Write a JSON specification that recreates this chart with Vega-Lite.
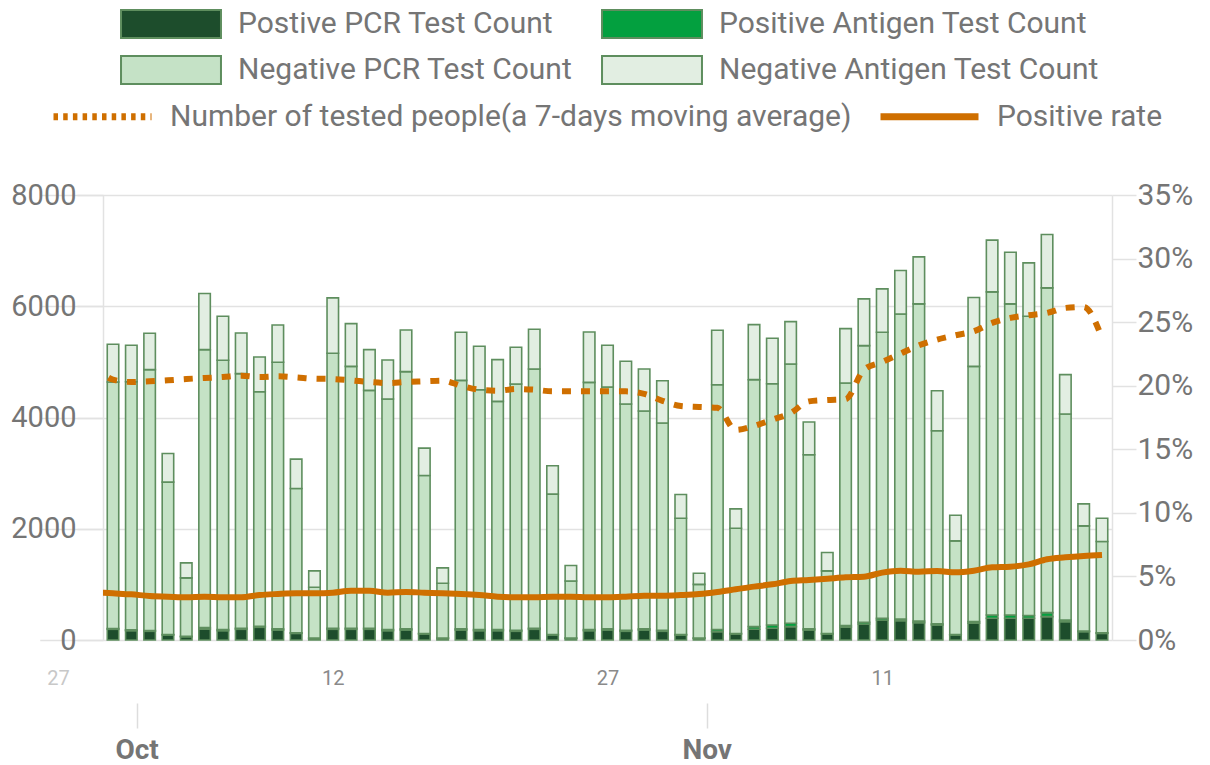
{
  "$schema": "https://vega.github.io/schema/vega-lite/v6.json",
  "width": 1009,
  "height": 445,
  "autosize": {"type": "none"},
  "padding": {"left": 103, "top": 195, "right": 98, "bottom": 125},
  "background": "white",
  "datasets": {
    "bars": [
      {"d":"2020-09-30","posPcr":192,"posAg":15,"negPcr":4430,"negAg":679},
      {"d":"2020-10-01","posPcr":168,"posAg":15,"negPcr":4461,"negAg":654},
      {"d":"2020-10-02","posPcr":156,"posAg":15,"negPcr":4689,"negAg":654},
      {"d":"2020-10-03","posPcr":90,"posAg":10,"negPcr":2738,"negAg":516},
      {"d":"2020-10-04","posPcr":60,"posAg":5,"negPcr":1051,"negAg":270},
      {"d":"2020-10-05","posPcr":192,"posAg":30,"negPcr":4998,"negAg":1008},
      {"d":"2020-10-06","posPcr":168,"posAg":20,"negPcr":4840,"negAg":792},
      {"d":"2020-10-07","posPcr":192,"posAg":20,"negPcr":4576,"negAg":732},
      {"d":"2020-10-08","posPcr":228,"posAg":20,"negPcr":4216,"negAg":624},
      {"d":"2020-10-09","posPcr":180,"posAg":20,"negPcr":4792,"negAg":672},
      {"d":"2020-10-10","posPcr":120,"posAg":10,"negPcr":2594,"negAg":528},
      {"d":"2020-10-11","posPcr":30,"posAg":5,"negPcr":913,"negAg":294},
      {"d":"2020-10-12","posPcr":192,"posAg":20,"negPcr":4942,"negAg":996},
      {"d":"2020-10-13","posPcr":192,"posAg":20,"negPcr":4708,"negAg":768},
      {"d":"2020-10-14","posPcr":192,"posAg":20,"negPcr":4276,"negAg":732},
      {"d":"2020-10-15","posPcr":168,"posAg":20,"negPcr":4144,"negAg":702},
      {"d":"2020-10-16","posPcr":180,"posAg":20,"negPcr":4624,"negAg":750},
      {"d":"2020-10-17","posPcr":108,"posAg":10,"negPcr":2840,"negAg":492},
      {"d":"2020-10-18","posPcr":30,"posAg":5,"negPcr":985,"negAg":276},
      {"d":"2020-10-19","posPcr":180,"posAg":20,"negPcr":4468,"negAg":864},
      {"d":"2020-10-20","posPcr":168,"posAg":20,"negPcr":4312,"negAg":780},
      {"d":"2020-10-21","posPcr":168,"posAg":20,"negPcr":4102,"negAg":750},
      {"d":"2020-10-22","posPcr":156,"posAg":20,"negPcr":4426,"negAg":660},
      {"d":"2020-10-23","posPcr":192,"posAg":20,"negPcr":4660,"negAg":714},
      {"d":"2020-10-24","posPcr":90,"posAg":10,"negPcr":2522,"negAg":510},
      {"d":"2020-10-25","posPcr":30,"posAg":5,"negPcr":1027,"negAg":276},
      {"d":"2020-10-26","posPcr":168,"posAg":20,"negPcr":4444,"negAg":906},
      {"d":"2020-10-27","posPcr":180,"posAg":20,"negPcr":4348,"negAg":750},
      {"d":"2020-10-28","posPcr":156,"posAg":20,"negPcr":4066,"negAg":768},
      {"d":"2020-10-29","posPcr":180,"posAg":20,"negPcr":3916,"negAg":756},
      {"d":"2020-10-30","posPcr":156,"posAg":20,"negPcr":3724,"negAg":762},
      {"d":"2020-10-31","posPcr":90,"posAg":10,"negPcr":2090,"negAg":426},
      {"d":"2020-11-01","posPcr":30,"posAg":5,"negPcr":965,"negAg":200},
      {"d":"2020-11-02","posPcr":150,"posAg":40,"negPcr":4400,"negAg":978},
      {"d":"2020-11-03","posPcr":108,"posAg":10,"negPcr":1892,"negAg":348},
      {"d":"2020-11-04","posPcr":192,"posAg":48,"negPcr":4440,"negAg":990},
      {"d":"2020-11-05","posPcr":210,"posAg":60,"negPcr":4338,"negAg":816},
      {"d":"2020-11-06","posPcr":240,"posAg":60,"negPcr":4662,"negAg":762},
      {"d":"2020-11-07","posPcr":180,"posAg":20,"negPcr":3130,"negAg":588},
      {"d":"2020-11-08","posPcr":108,"posAg":10,"negPcr":1124,"negAg":330},
      {"d":"2020-11-09","posPcr":228,"posAg":30,"negPcr":4362,"negAg":978},
      {"d":"2020-11-10","posPcr":288,"posAg":30,"negPcr":4974,"negAg":840},
      {"d":"2020-11-11","posPcr":360,"posAg":30,"negPcr":5142,"negAg":780},
      {"d":"2020-11-12","posPcr":348,"posAg":30,"negPcr":5484,"negAg":780},
      {"d":"2020-11-13","posPcr":312,"posAg":30,"negPcr":5700,"negAg":846},
      {"d":"2020-11-14","posPcr":270,"posAg":20,"negPcr":3472,"negAg":720},
      {"d":"2020-11-15","posPcr":90,"posAg":10,"negPcr":1682,"negAg":462},
      {"d":"2020-11-16","posPcr":300,"posAg":30,"negPcr":4590,"negAg":1236},
      {"d":"2020-11-17","posPcr":390,"posAg":60,"negPcr":5808,"negAg":930},
      {"d":"2020-11-18","posPcr":390,"posAg":60,"negPcr":5592,"negAg":930},
      {"d":"2020-11-19","posPcr":390,"posAg":50,"negPcr":5380,"negAg":960},
      {"d":"2020-11-20","posPcr":420,"posAg":72,"negPcr":5838,"negAg":960},
      {"d":"2020-11-21","posPcr":330,"posAg":30,"negPcr":3702,"negAg":708},
      {"d":"2020-11-22","posPcr":150,"posAg":10,"negPcr":1892,"negAg":396},
      {"d":"2020-11-23","posPcr":120,"posAg":10,"negPcr":1640,"negAg":420}
    ],
    "lines": [
      {"d":"2020-09-29","avg7":4950,"rate":0.0375},
      {"d":"2020-09-30","avg7":4680,"rate":0.0367},
      {"d":"2020-10-01","avg7":4638,"rate":0.0359},
      {"d":"2020-10-02","avg7":4650,"rate":0.0346},
      {"d":"2020-10-03","avg7":4668,"rate":0.0341},
      {"d":"2020-10-04","avg7":4692,"rate":0.0336},
      {"d":"2020-10-05","avg7":4710,"rate":0.0341},
      {"d":"2020-10-06","avg7":4728,"rate":0.0336},
      {"d":"2020-10-07","avg7":4752,"rate":0.0336},
      {"d":"2020-10-08","avg7":4728,"rate":0.0354},
      {"d":"2020-10-09","avg7":4740,"rate":0.0362},
      {"d":"2020-10-10","avg7":4722,"rate":0.0367},
      {"d":"2020-10-11","avg7":4698,"rate":0.0367},
      {"d":"2020-10-12","avg7":4692,"rate":0.0372},
      {"d":"2020-10-13","avg7":4668,"rate":0.0388},
      {"d":"2020-10-14","avg7":4638,"rate":0.0388},
      {"d":"2020-10-15","avg7":4620,"rate":0.0372},
      {"d":"2020-10-16","avg7":4638,"rate":0.0378},
      {"d":"2020-10-17","avg7":4650,"rate":0.0372},
      {"d":"2020-10-18","avg7":4662,"rate":0.0367},
      {"d":"2020-10-19","avg7":4572,"rate":0.0362},
      {"d":"2020-10-20","avg7":4500,"rate":0.0354},
      {"d":"2020-10-21","avg7":4482,"rate":0.0341},
      {"d":"2020-10-22","avg7":4512,"rate":0.0336},
      {"d":"2020-10-23","avg7":4500,"rate":0.0336},
      {"d":"2020-10-24","avg7":4470,"rate":0.0341},
      {"d":"2020-10-25","avg7":4470,"rate":0.0341},
      {"d":"2020-10-26","avg7":4470,"rate":0.0336},
      {"d":"2020-10-27","avg7":4470,"rate":0.0336},
      {"d":"2020-10-28","avg7":4470,"rate":0.0341},
      {"d":"2020-10-29","avg7":4425,"rate":0.0349},
      {"d":"2020-10-30","avg7":4300,"rate":0.0349},
      {"d":"2020-10-31","avg7":4207,"rate":0.0354},
      {"d":"2020-11-01","avg7":4189,"rate":0.0362},
      {"d":"2020-11-02","avg7":4175,"rate":0.0378},
      {"d":"2020-11-03","avg7":3776,"rate":0.0399},
      {"d":"2020-11-04","avg7":3850,"rate":0.0420},
      {"d":"2020-11-05","avg7":3960,"rate":0.0438},
      {"d":"2020-11-06","avg7":4080,"rate":0.0464},
      {"d":"2020-11-07","avg7":4290,"rate":0.0472},
      {"d":"2020-11-08","avg7":4315,"rate":0.0482},
      {"d":"2020-11-09","avg7":4330,"rate":0.0493},
      {"d":"2020-11-10","avg7":4860,"rate":0.0498},
      {"d":"2020-11-11","avg7":4998,"rate":0.0530},
      {"d":"2020-11-12","avg7":5148,"rate":0.0545},
      {"d":"2020-11-13","avg7":5298,"rate":0.0537},
      {"d":"2020-11-14","avg7":5400,"rate":0.0543},
      {"d":"2020-11-15","avg7":5478,"rate":0.0532},
      {"d":"2020-11-16","avg7":5550,"rate":0.0545},
      {"d":"2020-11-17","avg7":5700,"rate":0.0572},
      {"d":"2020-11-18","avg7":5790,"rate":0.0577},
      {"d":"2020-11-19","avg7":5838,"rate":0.0595},
      {"d":"2020-11-20","avg7":5880,"rate":0.0635},
      {"d":"2020-11-21","avg7":5970,"rate":0.0650},
      {"d":"2020-11-22","avg7":5987,"rate":0.0661},
      {"d":"2020-11-23","avg7":5430,"rate":0.0669}
    ]
  },
  "layer": [
    {
      "data": {"name": "bars"},
      "transform": [{"fold": ["posPcr", "posAg", "negPcr", "negAg"], "as": ["k", "v"]}],
      "mark": {"type": "bar", "width": 11.5, "stroke": "#5e8e5e", "strokeWidth": 1.6},
      "encoding": {
        "x": {
          "field": "d", "type": "temporal",
          "scale": {"type": "utc", "nice": false, "padding": 0,
            "domain": [{"year": 2020, "month": 9, "date": 26, "utc": true},
                       {"year": 2020, "month": 11, "date": 23, "hours": 13, "minutes": 6, "utc": true}],
            "range": [-63.26, 1009]},
          "axis": {
            "orient": "bottom", "title": null, "format": "%d", "formatType": "time",
            "values": [{"year": 2020, "month": 9, "date": 27, "utc": true},
                       {"year": 2020, "month": 10, "date": 12, "utc": true},
                       {"year": 2020, "month": 10, "date": 27, "utc": true},
                       {"year": 2020, "month": 11, "date": 11, "utc": true}],
            "ticks": false, "domain": false, "grid": false,
            "labelFontSize": 20, "labelPadding": 28, "labelFont": "Roboto",
            "labelColor": {"condition": {"test": "datum.value < utc(2020, 8, 29)", "value": "#c8c8c8"}, "value": "#8a8a8a"},
            "labelOverlap": false, "labelBound": false, "labelFlush": false
          }
        },
        "y": {
          "field": "v", "type": "quantitative", "stack": "zero",
          "scale": {"domain": [0, 8000], "nice": false},
          "axis": {
            "title": null, "values": [0, 2000, 4000, 6000, 8000], "format": "d",
            "grid": true, "gridColor": "#e2e2e2", "gridWidth": 1.5,
            "ticks": true, "tickSize": 26, "tickColor": "#e2e2e2", "tickWidth": 1.5,
            "domain": true, "domainColor": "#e2e2e2", "domainWidth": 1.5,
            "labelFontSize": 29, "labelColor": "#757575", "labelPadding": 1, "labelFont": "Roboto"
          }
        },
        "fill": {
          "field": "k", "type": "nominal",
          "scale": {"domain": ["posPcr", "posAg", "negPcr", "negAg"],
                    "range": ["#1d4d2c", "#03a03f", "#c5e2c6", "#e2eee2"]},
          "legend": {
            "orient": "none", "legendX": 17, "legendY": -186, "direction": "horizontal", "columns": 2,
            "title": null,
            "symbolType": "M-3.57,-1H3.57V1H-3.57Z", "symbolSize": 784, "symbolOffset": 36,
            "symbolStrokeColor": "#5e8e5e", "symbolStrokeWidth": 2,
            "labelFontSize": 30, "labelColor": "#757575", "labelFont": "Roboto",
            "labelOffset": 52, "columnPadding": 25, "rowPadding": 10, "labelLimit": 700,
            "labelExpr": "datum.label == 'posPcr' ? 'Postive PCR Test Count' : datum.label == 'posAg' ? 'Positive Antigen Test Count' : datum.label == 'negPcr' ? 'Negative PCR Test Count' : 'Negative Antigen Test Count'"
          }
        },
        "order": {"field": "k", "sort": "descending"}
      }
    },
    {
      "data": {"name": "lines"},
      "mark": {"type": "line", "color": "#cf6f00", "strokeWidth": 6, "strokeDash": [9, 10], "interpolate": "monotone", "clip": true},
      "encoding": {
        "x": {
          "field": "d", "type": "temporal",
          "axis": {
            "orient": "bottom", "title": null, "format": "%b", "formatType": "time",
            "values": [{"year": 2020, "month": 10, "date": 1, "hours": 7, "utc": true},
                       {"year": 2020, "month": 11, "date": 1, "hours": 10, "utc": true}],
            "offset": 63, "ticks": true, "tickSize": 25, "tickColor": "#dddddd", "tickWidth": 1.5,
            "domain": false, "grid": false,
            "labelFontSize": 28, "labelFontWeight": "bold", "labelColor": "#757575", "labelPadding": 8,
            "labelFont": "Roboto", "labelOverlap": false
          }
        },
        "y": {"field": "avg7", "type": "quantitative", "scale": {"domain": [0, 8000], "nice": false}, "axis": null}
      }
    },
    {
      "data": {"name": "lines"},
      "mark": {"type": "line", "color": "#cf6f00", "strokeWidth": 6, "interpolate": "monotone", "clip": true},
      "encoding": {
        "x": {"field": "d", "type": "temporal", "axis": null},
        "y": {
          "field": "rate", "type": "quantitative", "scale": {"domain": [0, 0.35], "nice": false},
          "axis": {
            "orient": "right", "title": null, "format": ".0%",
            "values": [0, 0.05, 0.1, 0.15, 0.2, 0.25, 0.3, 0.35],
            "grid": false, "ticks": true, "tickSize": 24, "tickColor": "#e2e2e2", "tickWidth": 1.5,
            "domain": true, "domainColor": "#e2e2e2", "domainWidth": 1.5,
            "labelFontSize": 30, "labelColor": "#757575", "labelPadding": 1, "labelFont": "Roboto"
          }
        }
      }
    },
    {
      "data": {"name": "lines"},
      "transform": [{"filter": "false"}],
      "mark": {"type": "line", "color": "#cf6f00", "strokeWidth": 6},
      "encoding": {
        "x": {"field": "d", "type": "temporal", "axis": null},
        "y": {"field": "rate", "type": "quantitative", "axis": null},
        "strokeDash": {
          "datum": "Number of tested people(a 7-days moving average)",
          "scale": {"domain": ["Number of tested people(a 7-days moving average)", "Positive rate"],
                    "range": [[4.5, 5.2], [1, 0]]},
          "legend": {
            "orient": "none", "legendX": -53, "legendY": -96, "direction": "horizontal", "columns": 2,
            "title": null, "symbolType": "M-3.5,0H3.5", "symbolSize": 784, "symbolOffset": 35,
            "symbolStrokeColor": "#cf6f00", "symbolStrokeWidth": 7,
            "labelFontSize": 30, "labelColor": "#757575", "labelFont": "Roboto",
            "labelOffset": 50, "columnPadding": 14, "labelLimit": 900
          }
        }
      }
    }
  ],
  "resolve": {"scale": {"y": "independent"}, "axis": {"x": "independent", "y": "independent"}},
  "config": {
    "font": "Roboto",
    "view": {"stroke": null}
  }
}
